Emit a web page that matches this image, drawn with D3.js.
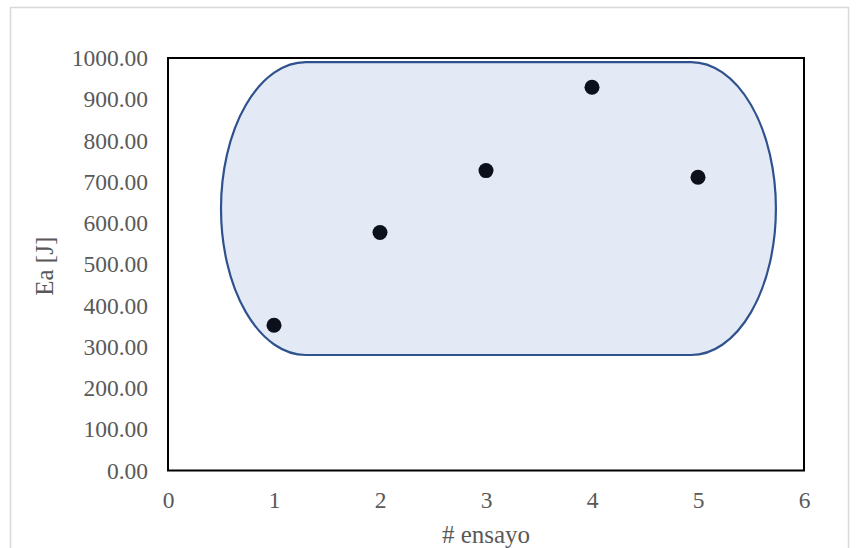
<!DOCTYPE html>
<html>
<head>
<meta charset="utf-8">
<script src="https://cdn.jsdelivr.net/npm/d3@7"></script>
<style>
  html, body { margin: 0; padding: 0; background: #fff; }
  svg { display: block; }
  text { font-family: "Liberation Serif", "Times New Roman", serif; fill: #595959; }
</style>
</head>
<body>
<svg id="chart" width="856" height="548"></svg>
<script>
// Energy absorbed per test run
const ensayos = [1, 2, 3, 4, 5];
const energia = [352, 577, 727, 929, 711];

// Axis ticks
const xTicks = [0, 1, 2, 3, 4, 5, 6];
const yTicks = [0, 100, 200, 300, 400, 500, 600, 700, 800, 900, 1000];

// Highlight region around the points (data units)
const zonaX = [0.5, 5.735];
const zonaY = [280, 990];
const zonaCurva = 0.8;

const svg = d3.select("#chart");
const plot = { left: 168, right: 804, top: 58, bottom: 470.5 };

// Outer chart frame
svg.append("rect")
  .attr("x", 10.5).attr("y", 7.5)
  .attr("width", 838).attr("height", 560)
  .attr("fill", "#fff").attr("stroke", "#d9d9d9").attr("stroke-width", 1.5);

const x = d3.scaleLinear().domain([0, 6]).range([plot.left, plot.right]);
const y = d3.scaleLinear().domain([0, 1000]).range([plot.bottom, plot.top]);

// Rounded highlight region: flat top/bottom with elliptical ends
const x0 = x(zonaX[0]), x1 = x(zonaX[1]);
const yT = y(zonaY[1]), yB = y(zonaY[0]);
const rx = x(zonaX[0] + zonaCurva) - x0;
const ry = (yB - yT) / 2;
const zona = `M${x0 + rx},${yT} L${x1 - rx},${yT} A${rx},${ry} 0 0 1 ${x1 - rx},${yB} L${x0 + rx},${yB} A${rx},${ry} 0 0 1 ${x0 + rx},${yT} Z`;
svg.append("path")
  .attr("d", zona)
  .attr("fill", "#e4eaf5")
  .attr("stroke", "#2f528f")
  .attr("stroke-width", 2.2);

// Plot area border
svg.append("rect")
  .attr("x", plot.left).attr("y", plot.top)
  .attr("width", plot.right - plot.left).attr("height", plot.bottom - plot.top)
  .attr("fill", "none").attr("stroke", "#000").attr("stroke-width", 2);

// Y axis labels
const yAxis = d3.axisLeft(y).tickValues(yTicks).tickSize(0).tickPadding(20)
  .tickFormat(d3.format(".2f"));
const gy = svg.append("g").attr("transform", `translate(${plot.left},0)`).call(yAxis);
gy.select(".domain").remove();
gy.selectAll("text").attr("font-size", 23.5).attr("fill", "#595959")
  .style("font-family", "'Liberation Serif', serif");

// X axis labels
const xAxis = d3.axisBottom(x).tickValues(xTicks).tickSize(0).tickPadding(21)
  .tickFormat(d3.format("d"));
const gx = svg.append("g").attr("transform", `translate(0,${plot.bottom})`).call(xAxis);
gx.select(".domain").remove();
gx.selectAll("text").attr("font-size", 23.5).attr("fill", "#595959")
  .style("font-family", "'Liberation Serif', serif");

// Axis titles
svg.append("text")
  .attr("x", 486).attr("y", 543)
  .attr("text-anchor", "middle").attr("font-size", 25)
  .text("# ensayo");
svg.append("text")
  .attr("transform", `translate(53,${(plot.top + plot.bottom) / 2 + 2}) rotate(-90)`)
  .attr("text-anchor", "middle").attr("font-size", 25)
  .text("Ea [J]");

// Data points
svg.append("g").selectAll("circle")
  .data(ensayos.map((e, i) => ({ e, v: energia[i] })))
  .join("circle")
  .attr("cx", d => x(d.e))
  .attr("cy", d => y(d.v))
  .attr("r", 7.5)
  .attr("fill", "#0b101a");
</script>
</body>
</html>
